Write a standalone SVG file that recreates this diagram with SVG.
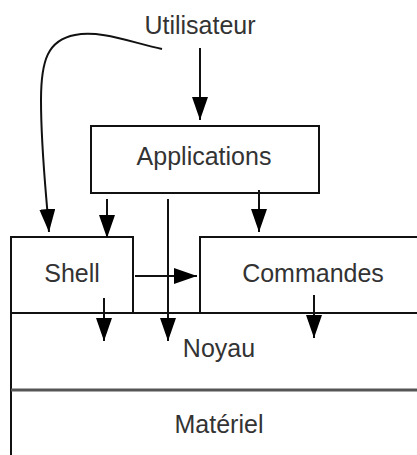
<svg xmlns="http://www.w3.org/2000/svg" width="417" height="455" viewBox="0 0 417 455">
<style>
.box{fill:#fff;stroke:#111;stroke-width:2}
.lbl{font-family:"Liberation Sans",Arial,sans-serif;font-size:25px;fill:#333;text-anchor:middle}
.conn{fill:none;stroke:#111;stroke-width:2}
</style>
<defs>
<marker id="ah" markerUnits="userSpaceOnUse" markerWidth="26" markerHeight="18" refX="23" refY="8" orient="auto">
<path d="M0,0 L23,8 L0,16 z" fill="#000"/>
</marker>
</defs>
<rect width="417" height="455" fill="#fff"/>
<g id="materiel">
<rect class="box" x="11" y="390" width="420" height="80"/>
<text class="lbl" x="219" y="433">Matériel</text>
</g>
<g id="noyau">
<rect class="box" x="11" y="313" width="420" height="77"/>
<line x1="11" y1="390" x2="417" y2="390" stroke="#555" stroke-width="3"/>
<text class="lbl" x="219" y="357">Noyau</text>
</g>
<g id="shell">
<rect class="box" x="11" y="237" width="122" height="76"/>
<text class="lbl" x="72" y="282">Shell</text>
</g>
<g id="commandes">
<rect class="box" x="200" y="237" width="230" height="76"/>
<text class="lbl" x="313" y="282">Commandes</text>
</g>
<g id="applications">
<rect class="box" x="91" y="126" width="228" height="67"/>
<text class="lbl" x="204" y="165">Applications</text>
</g>
<g id="utilisateur">
<text class="lbl" x="200" y="34">Utilisateur</text>
</g>
<g id="connectors">
<path class="conn" d="M200,48 L200,120" marker-end="url(#ah)"/>
<path class="conn" d="M162,49 C130,42 100,30 75,35 C48,40 41,60 41,100 C41,150 46,190 49,232" marker-end="url(#ah)"/>
<path class="conn" d="M107,199 L107,238" marker-end="url(#ah)"/>
<path class="conn" d="M168,199 L168,341" marker-end="url(#ah)"/>
<path class="conn" d="M259,190 L259,232" marker-end="url(#ah)"/>
<path class="conn" d="M135,276 L197,276" marker-end="url(#ah)"/>
<path class="conn" d="M104,298 L104,341" marker-end="url(#ah)"/>
<path class="conn" d="M314,295 L314,338" marker-end="url(#ah)"/>
</g>
</svg>
